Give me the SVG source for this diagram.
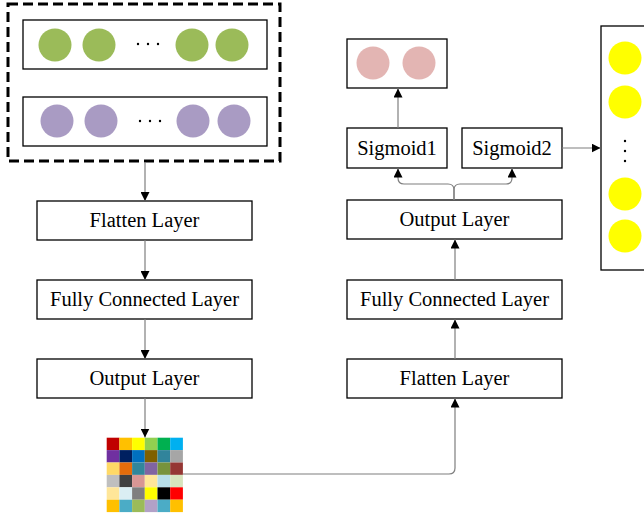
<svg xmlns="http://www.w3.org/2000/svg" width="644" height="519" viewBox="0 0 644 519">
<defs>
<marker id="ah" viewBox="0 0 10 10" refX="10" refY="5" markerWidth="9" markerHeight="9" markerUnits="userSpaceOnUse" orient="auto">
<path d="M0,0 L10,5 L0,10 Z" fill="#000"/>
</marker>
<style>
.box{fill:#fff;stroke:#000;stroke-width:1.3}
.lbl{font-family:"Liberation Serif","Times New Roman",serif;font-size:20.5px;fill:#000;text-anchor:middle}
.con{fill:none;stroke:#7f7f7f;stroke-width:1.2;marker-end:url(#ah)}
.g{fill:#9bbb59}
.p{fill:#a99bc3}
.pk{fill:#e3b5b3}
.y{fill:#ffff00}
.dot{fill:#000}
</style>
</defs>
<rect width="644" height="519" fill="#fff"/>

<g id="input">
<rect x="8" y="4" width="272" height="157" fill="none" stroke="#000" stroke-width="3" stroke-dasharray="10,5"/>
<rect class="box" x="23" y="20" width="244" height="49"/>
<circle class="g" cx="55" cy="45" r="16.5"/>
<circle class="g" cx="99" cy="45" r="16.5"/>
<circle class="g" cx="192" cy="45" r="16.5"/>
<circle class="g" cx="232" cy="45" r="16.5"/>
<circle class="dot" cx="138" cy="44" r="1.2"/>
<circle class="dot" cx="148" cy="44" r="1.2"/>
<circle class="dot" cx="158" cy="44" r="1.2"/>
<rect class="box" x="23" y="97" width="244" height="49"/>
<circle class="p" cx="57" cy="121" r="16.5"/>
<circle class="p" cx="101" cy="121" r="16.5"/>
<circle class="p" cx="193" cy="121" r="16.5"/>
<circle class="p" cx="234" cy="121" r="16.5"/>
<circle class="dot" cx="140" cy="121" r="1.2"/>
<circle class="dot" cx="150" cy="121" r="1.2"/>
<circle class="dot" cx="160" cy="121" r="1.2"/>
</g>

<g id="flatten-left">
<rect class="box" x="37" y="201" width="215" height="39"/>
<text class="lbl" x="144.5" y="227">Flatten Layer</text>
</g>
<g id="fc-left">
<rect class="box" x="37" y="280" width="215" height="39"/>
<text class="lbl" x="144.5" y="306">Fully Connected Layer</text>
</g>
<g id="output-left">
<rect class="box" x="37" y="359" width="215" height="39"/>
<text class="lbl" x="144.5" y="385">Output Layer</text>
</g>

<g id="mosaic">
<rect x="106.7" y="437.7" width="12.7" height="12.4" fill="#C00000"/>
<rect x="119.4" y="437.7" width="12.7" height="12.4" fill="#FFC000"/>
<rect x="132.1" y="437.7" width="12.7" height="12.4" fill="#FFFF00"/>
<rect x="144.8" y="437.7" width="12.7" height="12.4" fill="#92D050"/>
<rect x="157.5" y="437.7" width="12.7" height="12.4" fill="#00B050"/>
<rect x="170.2" y="437.7" width="12.7" height="12.4" fill="#00B0F0"/>
<rect x="106.7" y="450.1" width="12.7" height="12.4" fill="#7030A0"/>
<rect x="119.4" y="450.1" width="12.7" height="12.4" fill="#002060"/>
<rect x="132.1" y="450.1" width="12.7" height="12.4" fill="#0070C0"/>
<rect x="144.8" y="450.1" width="12.7" height="12.4" fill="#7F6000"/>
<rect x="157.5" y="450.1" width="12.7" height="12.4" fill="#31849B"/>
<rect x="170.2" y="450.1" width="12.7" height="12.4" fill="#A6A6A6"/>
<rect x="106.7" y="462.5" width="12.7" height="12.4" fill="#FFD966"/>
<rect x="119.4" y="462.5" width="12.7" height="12.4" fill="#E46C0A"/>
<rect x="132.1" y="462.5" width="12.7" height="12.4" fill="#31869B"/>
<rect x="144.8" y="462.5" width="12.7" height="12.4" fill="#8064A2"/>
<rect x="157.5" y="462.5" width="12.7" height="12.4" fill="#77933C"/>
<rect x="170.2" y="462.5" width="12.7" height="12.4" fill="#953734"/>
<rect x="106.7" y="474.9" width="12.7" height="12.4" fill="#BFBFBF"/>
<rect x="119.4" y="474.9" width="12.7" height="12.4" fill="#404040"/>
<rect x="132.1" y="474.9" width="12.7" height="12.4" fill="#D99694"/>
<rect x="144.8" y="474.9" width="12.7" height="12.4" fill="#FFE699"/>
<rect x="157.5" y="474.9" width="12.7" height="12.4" fill="#B7DEE8"/>
<rect x="170.2" y="474.9" width="12.7" height="12.4" fill="#D7E4BD"/>
<rect x="106.7" y="487.3" width="12.7" height="12.4" fill="#FFE699"/>
<rect x="119.4" y="487.3" width="12.7" height="12.4" fill="#DAEEF3"/>
<rect x="132.1" y="487.3" width="12.7" height="12.4" fill="#7F7F7F"/>
<rect x="144.8" y="487.3" width="12.7" height="12.4" fill="#FFFF00"/>
<rect x="157.5" y="487.3" width="12.7" height="12.4" fill="#000000"/>
<rect x="170.2" y="487.3" width="12.7" height="12.4" fill="#FF0000"/>
<rect x="106.7" y="499.7" width="12.7" height="12.4" fill="#FFC000"/>
<rect x="119.4" y="499.7" width="12.7" height="12.4" fill="#4BACC6"/>
<rect x="132.1" y="499.7" width="12.7" height="12.4" fill="#9BBB59"/>
<rect x="144.8" y="499.7" width="12.7" height="12.4" fill="#B2A1C7"/>
<rect x="157.5" y="499.7" width="12.7" height="12.4" fill="#4BACC6"/>
<rect x="170.2" y="499.7" width="12.7" height="12.4" fill="#FFC000"/>
</g>

<g id="flatten-right">
<rect class="box" x="347" y="359" width="215" height="39"/>
<text class="lbl" x="454.5" y="385">Flatten Layer</text>
</g>
<g id="fc-right">
<rect class="box" x="347" y="280" width="215" height="39"/>
<text class="lbl" x="454.5" y="306">Fully Connected Layer</text>
</g>
<g id="output-right">
<rect class="box" x="347" y="200" width="215" height="39"/>
<text class="lbl" x="454.5" y="226">Output Layer</text>
</g>
<g id="sigmoid1">
<rect class="box" x="347" y="128" width="100" height="40"/>
<text class="lbl" x="397" y="155">Sigmoid1</text>
</g>
<g id="sigmoid2">
<rect class="box" x="462" y="128" width="100" height="40"/>
<text class="lbl" x="512" y="155">Sigmoid2</text>
</g>
<g id="pink-output">
<rect class="box" x="347" y="39" width="100" height="49"/>
<circle class="pk" cx="373" cy="63" r="16.5"/>
<circle class="pk" cx="419" cy="63" r="16.5"/>
</g>
<g id="yellow-output">
<rect class="box" x="601" y="26" width="60" height="244"/>
<circle class="y" cx="625" cy="58" r="16.5"/>
<circle class="y" cx="625" cy="102" r="16.5"/>
<circle class="y" cx="625" cy="194" r="16.5"/>
<circle class="y" cx="625" cy="236" r="16.5"/>
<circle class="dot" cx="625" cy="141" r="1.2"/>
<circle class="dot" cx="625" cy="151" r="1.2"/>
<circle class="dot" cx="625" cy="161" r="1.2"/>
</g>

<g id="connectors">
<path class="con" d="M145,162 L145,201"/>
<path class="con" d="M145,240 L145,280"/>
<path class="con" d="M145,319 L145,359"/>
<path class="con" d="M145,398 L145,437.5"/>
<path class="con" d="M183,474 L449,474 Q455,474 455,468 L455,398.5"/>
<path class="con" d="M455,359 L455,319.5"/>
<path class="con" d="M455,280 L455,239.5"/>
<path class="con" d="M454,200 L454,190 Q454,184 448,184 L404,184 Q398,184 398,178 L398,168.5"/>
<path class="con" d="M454,200 L454,190 Q454,184 460,184 L506,184 Q512,184 512,178 L512,168.5"/>
<path class="con" d="M398,128 L398,88.5"/>
<path class="con" d="M562,148 L600.5,148"/>
</g>
</svg>
